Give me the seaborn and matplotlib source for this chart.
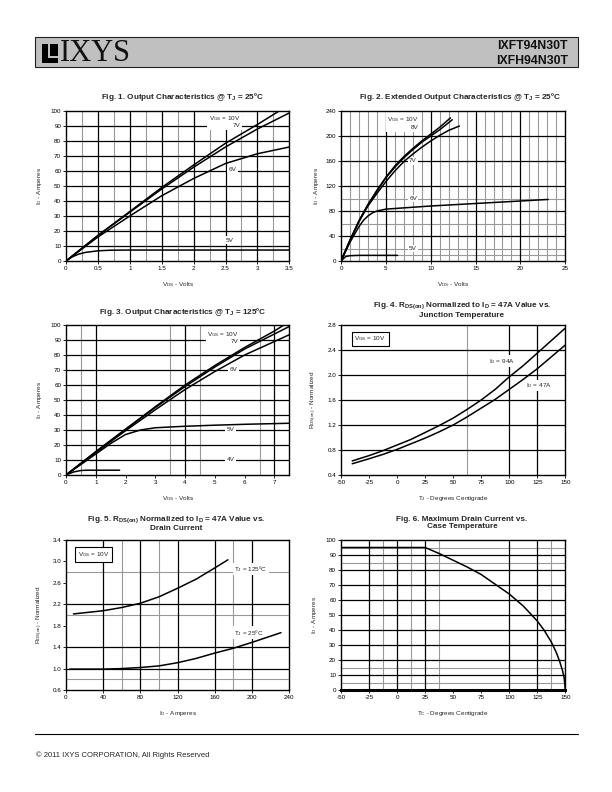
import matplotlib
matplotlib.use("Agg")
import matplotlib.pyplot as plt
import seaborn as sns
from matplotlib import font_manager
from matplotlib.patches import Rectangle
from matplotlib.lines import Line2D

# ---------------- values ----------------
# Fig. 1  output characteristics @ TJ = 25C  (VDS volts, ID amps)
f1_10v_x = [0, 0.25, 0.5, 1.0, 1.5, 2.0, 2.5, 3.0, 3.34]
f1_10v_y = [0, 8.5, 17, 33, 49, 64, 78.5, 91, 100]
f1_7v_x = [0, 0.25, 0.5, 1.0, 1.5, 2.0, 2.5, 3.0, 3.5]
f1_7v_y = [0, 8.5, 17, 32.5, 48, 62.5, 76, 88, 98.7]
f1_6v_x = [0, 0.25, 0.5, 1.0, 1.5, 2.0, 2.5, 3.0, 3.5]
f1_6v_y = [0, 8, 16, 30, 43.5, 55, 65, 71.5, 76]
f1_5v_x = [0, 0.1, 0.2, 0.3, 0.5, 0.7, 1.0, 3.5]
f1_5v_y = [0, 2.8, 4.6, 5.7, 6.8, 7.2, 7.3, 7.3]

# Fig. 2  extended output characteristics @ TJ = 25C
f2_10v_x = [0, 1, 2, 3, 4, 5, 6, 7, 8, 9, 10, 11, 12.2]
f2_10v_y = [0, 33, 64, 90, 113, 134, 152, 167, 180, 192, 203, 214, 229]
f2_8v_x = [0, 1, 2, 3, 4, 5, 6, 7, 8, 9, 10, 11, 12.4]
f2_8v_y = [0, 33, 64, 90, 112, 133, 150, 165, 178, 190, 200, 210, 226]
f2_7v_x = [0, 1, 2, 3, 4, 5, 6, 7, 8, 9, 10, 11, 12, 13.2]
f2_7v_y = [0, 33, 63, 88, 108, 127, 144, 159, 171, 182, 192, 201, 209, 216]
f2_6v_x = [0, 1, 2, 2.5, 3, 3.5, 4, 5, 6, 8, 10, 15, 20, 23.1]
f2_6v_y = [0, 30, 55, 65, 72, 77, 80, 83, 84, 86, 88, 92, 96, 98.5]
f2_5v_x = [0, 0.5, 1, 2, 6.3]
f2_5v_y = [0, 7, 8.5, 9, 9]

# Fig. 3  output characteristics @ TJ = 125C
f3_10v_x = [0, 1, 2, 3, 4, 5, 6, 7, 7.32]
f3_10v_y = [0, 15.5, 30.5, 45.5, 60, 73, 85, 96, 100]
f3_7v_x = [0, 1, 2, 3, 4, 5, 6, 7, 7.5]
f3_7v_y = [0, 15.5, 30.5, 45, 59, 72, 84, 94, 99]
f3_6v_x = [0, 1, 2, 3, 4, 5, 6, 7, 7.5]
f3_6v_y = [0, 15, 29.5, 43.5, 57, 69, 80, 89, 93.5]
f3_5v_x = [0, 1, 1.5, 2, 2.5, 3, 4, 5, 6, 7.5]
f3_5v_y = [0, 14, 21, 27, 30, 31.5, 32.5, 33.2, 33.8, 34.5]
f3_4v_x = [0, 0.25, 0.5, 0.7, 1.8]
f3_4v_y = [0, 2, 3, 3.2, 3.2]

# Fig. 4  RDS(on) normalised vs junction temperature
f4_tj = [-40, -25, -12.5, 0, 12.5, 25, 37.5, 50, 62.5, 75, 87.5, 100, 112.5, 125, 137.5, 150]
f4_94a = [0.625, 0.71, 0.79, 0.88, 0.97, 1.08, 1.19, 1.31, 1.45, 1.60, 1.77, 1.97, 2.15, 2.35, 2.55, 2.75]
f4_47a = [0.58, 0.66, 0.73, 0.81, 0.90, 0.99, 1.09, 1.20, 1.33, 1.47, 1.61, 1.77, 1.93, 2.10, 2.29, 2.48]

# Fig. 5  RDS(on) normalised vs drain current
f5_125_id = [8, 40, 60, 80, 100, 120, 140, 160, 174]
f5_125_r = [2.02, 2.08, 2.14, 2.22, 2.34, 2.50, 2.67, 2.88, 3.03]
f5_25_id = [4, 40, 60, 80, 100, 120, 140, 160, 180, 200, 231]
f5_25_r = [0.99, 0.99, 1.00, 1.02, 1.05, 1.11, 1.19, 1.29, 1.38, 1.49, 1.67]

# Fig. 6  maximum drain current vs case temperature
f6_tc = [-50, 25, 37.5, 50, 62.5, 75, 87.5, 100, 112.5, 125, 131, 137.5, 142, 145, 147.5, 149, 150]
f6_id = [95, 95, 91, 86.5, 82, 77, 70.5, 64, 56, 46, 40, 32, 25, 19, 13, 8, 0]

# ---------------- fonts ----------------
sns.set_style("white")
installed = {f.name for f in font_manager.fontManager.ttflist}
SANS = "Liberation Sans" if "Liberation Sans" in installed else "DejaVu Sans"
if "Liberation Sans Narrow" in installed:
    TITLE_FONT, TITLE_SIZE = "Liberation Sans Narrow", 6.9
else:
    TITLE_FONT, TITLE_SIZE = SANS, 5.9
SERIF = "Liberation Serif" if "Liberation Serif" in installed else "DejaVu Serif"
plt.rcParams["font.family"] = [SANS, "DejaVu Sans"]
plt.rcParams["mathtext.default"] = "regular"

TICK = 4.5
LAB = 4.6
GREY = "#999999"

fig = plt.figure(figsize=(6.12, 7.92), dpi=100)


def fx(px):
    return px / 612


def fy(py):
    return 1 - py / 792


def panel(rect, xlim, ylim, xticks, xticklabels, yticks, yticklabels,
          vmaj, vmin, hmaj, hmin, xlabel, ylabel, ylab_off=0.1):
    ax = fig.add_axes(rect)
    for v in vmin:
        ax.axvline(v, color=GREY, lw=0.8, zorder=1)
    for v in vmaj:
        ax.axvline(v, color="black", lw=0.9, zorder=1.1)
    for h in hmin:
        ax.axhline(h, color=GREY, lw=0.8, zorder=1)
    for h in hmaj:
        ax.axhline(h, color="black", lw=0.9, zorder=1.1)
    ax.set_xlim(xlim)
    ax.set_ylim(ylim)
    ax.set_xticks(xticks)
    ax.set_xticklabels(xticklabels)
    ax.set_yticks(yticks)
    ax.set_yticklabels(yticklabels)
    ax.tick_params(bottom=True, left=True, length=2, width=0.6, direction="out",
                   labelsize=TICK, pad=1.5, colors="black")
    for s in ax.spines.values():
        s.set_color("black")
        s.set_linewidth(1.0)
        s.set_zorder(5)
    ax.set_xlabel(xlabel, fontsize=LAB)
    ax.set_ylabel(ylabel, fontsize=LAB)
    ax.xaxis.set_label_coords(0.5, -0.125)
    ax.yaxis.set_label_coords(-ylab_off, 0.5)
    return ax


def curve(ax, xs, ys):
    sns.lineplot(x=xs, y=ys, ax=ax, color="black", lw=1.1, sort=False,
                 estimator=None, zorder=4)


def note(ax, x, y, s, ha="left", box=False):
    if box:
        bb = dict(fc="white", ec="black", lw=0.8, pad=2.0)
    else:
        bb = dict(fc="white", ec="none", pad=1.0)
    ax.text(x, y, s, fontsize=LAB, ha=ha, va="center", bbox=bb, zorder=3,
            multialignment="right")


def title(xc, yc, s):
    fig.text(fx(xc), fy(yc), s, ha="center", va="center", fontsize=TITLE_SIZE,
             fontweight="bold", family=[TITLE_FONT, SANS], linespacing=1.15)


LX, LW = fx(66), fx(223.3)
RX, RW = fx(341), fx(224.3)
H = 150 / 792
ROWS = [fy(261), fy(475), fy(690)]

V_ID = "I$_D$ - Amperes"
V_VDS = "V$_{DS}$ - Volts"
V_RDS = "R$_{DS(on)}$ - Normalized"

# ---------------- header / footer ----------------
fig.patches.append(Rectangle((fx(35), fy(66.5)), fx(543), 29 / 792,
                             transform=fig.transFigure, fc="#c0c0c0",
                             ec="#222222", lw=0.8))
fig.patches.append(Rectangle((fx(42), fy(63)), fx(16), 19 / 792,
                             transform=fig.transFigure, fc="black", ec="none"))
fig.patches.append(Rectangle((fx(48), fy(58)), fx(1.6), 14 / 792,
                             transform=fig.transFigure, fc="#c0c0c0", ec="none"))
fig.patches.append(Rectangle((fx(48), fy(58)), fx(10), 1.6 / 792,
                             transform=fig.transFigure, fc="#c0c0c0", ec="none"))
fig.text(fx(60), fy(53.5), "IXYS", family=SERIF, fontsize=22, va="center",
         ha="left", color="#111111")
fig.text(fx(568), fy(46), "IXFT94N30T", fontsize=8.8, fontweight="bold",
         ha="right", va="center", color="#111111")
fig.text(fx(568), fy(60.5), "IXFH94N30T", fontsize=8.8, fontweight="bold",
         ha="right", va="center", color="#111111")
fig.add_artist(Line2D([fx(35), fx(578)], [fy(733.5), fy(733.5)],
                      color="black", lw=0.8))
fig.text(fx(36), fy(755), "© 2011 IXYS CORPORATION, All Rights Reserved",
         fontsize=5.5, ha="left", va="center")

# ---------------- Fig. 1 ----------------
ax1 = panel([LX, ROWS[0], LW, H], (0, 3.5), (0, 100),
            [0, 0.5, 1, 1.5, 2, 2.5, 3, 3.5],
            ["0", "0.5", "1", "1.5", "2", "2.5", "3", "3.5"],
            list(range(0, 101, 10)), [str(v) for v in range(0, 101, 10)],
            [0.5, 1, 1.5, 2, 2.5, 3], [0.25, 0.75, 1.25, 1.75, 2.25, 2.75, 3.25],
            list(range(10, 100, 10)), [], V_VDS, V_ID)
curve(ax1, f1_10v_x, f1_10v_y)
curve(ax1, f1_7v_x, f1_7v_y)
curve(ax1, f1_6v_x, f1_6v_y)
curve(ax1, f1_5v_x, f1_5v_y)
note(ax1, 2.73, 93.3, "V$_{GS}$ = 10V\n7V", ha="right")
note(ax1, 2.55, 61, "6V")
note(ax1, 2.5, 14, "5V")
title(183, 97, "Fig. 1. Output Characteristics @ T$_J$ = 25ºC")

# ---------------- Fig. 2 ----------------
ax2 = panel([RX, ROWS[0], RW, H], (0, 25), (0, 240),
            [0, 5, 10, 15, 20, 25], ["0", "5", "10", "15", "20", "25"],
            list(range(0, 241, 40)), [str(v) for v in range(0, 241, 40)],
            [5, 10, 15, 20], [v for v in range(1, 25) if v % 5],
            [40, 80, 120, 160, 200], [9, 20, 60, 100], V_VDS, V_ID, 0.09)
curve(ax2, f2_10v_x, f2_10v_y)
curve(ax2, f2_8v_x, f2_8v_y)
curve(ax2, f2_7v_x, f2_7v_y)
curve(ax2, f2_6v_x, f2_6v_y)
curve(ax2, f2_5v_x, f2_5v_y)
note(ax2, 8.65, 221, "V$_{GS}$ = 10V\n8V", ha="right")
note(ax2, 7.6, 160, "7V")
note(ax2, 7.6, 100, "6V")
note(ax2, 7.6, 20, "5V")
title(460, 97, "Fig. 2. Extended Output Characteristics @ T$_J$ = 25ºC")

# ---------------- Fig. 3 ----------------
ax3 = panel([LX, ROWS[1], LW, H], (0, 7.5), (0, 100),
            list(range(0, 8)), [str(v) for v in range(0, 8)],
            list(range(0, 101, 10)), [str(v) for v in range(0, 101, 10)],
            [1, 4, 7], [0.5, 3.5, 4.5, 6.5],
            list(range(10, 100, 10)), [], V_VDS, V_ID)
curve(ax3, f3_10v_x, f3_10v_y)
curve(ax3, f3_7v_x, f3_7v_y)
curve(ax3, f3_6v_x, f3_6v_y)
curve(ax3, f3_5v_x, f3_5v_y)
curve(ax3, f3_4v_x, f3_4v_y)
note(ax3, 5.79, 92, "V$_{GS}$ = 10V\n7V", ha="right")
note(ax3, 5.5, 70, "6V")
note(ax3, 5.4, 30, "5V")
note(ax3, 5.4, 10, "4V")
title(183, 312, "Fig. 3. Output Characteristics @ T$_J$ = 125ºC")

# ---------------- Fig. 4 ----------------
ax4 = panel([RX, ROWS[1], RW, H], (-50, 150), (0.4, 2.8),
            list(range(-50, 151, 25)), [str(v) for v in range(-50, 151, 25)],
            [0.4, 0.8, 1.2, 1.6, 2.0, 2.4, 2.8],
            ["0.4", "0.8", "1.2", "1.6", "2.0", "2.4", "2.8"],
            [100, 125], [62.5], [0.8, 1.2, 1.6, 2.0, 2.4], [],
            "T$_J$ - Degrees Centigrade", V_RDS)
curve(ax4, f4_tj, f4_94a)
curve(ax4, f4_tj, f4_47a)
note(ax4, -38, 2.58, "V$_{GS}$ = 10V", box=True)
note(ax4, 82, 2.22, "I$_D$ = 94A")
note(ax4, 115, 1.83, "I$_D$ = 47A")
title(462, 309.5, "Fig. 4. R$_{DS(on)}$ Normalized to I$_D$ = 47A Value vs.\nJunction Temperature")

# ---------------- Fig. 5 ----------------
ax5 = panel([LX, ROWS[2], LW, H], (0, 240), (0.6, 3.4),
            list(range(0, 241, 40)), [str(v) for v in range(0, 241, 40)],
            [0.6, 1.0, 1.4, 1.8, 2.2, 2.6, 3.0, 3.4],
            ["0.6", "1.0", "1.4", "1.8", "2.2", "2.6", "3.0", "3.4"],
            [40, 80, 120, 160, 200], [60, 100, 180],
            [1.0, 1.4, 2.2], [0.8, 2.0, 2.8], "I$_D$ - Amperes", V_RDS, 0.095)
curve(ax5, f5_125_id, f5_125_r)
curve(ax5, f5_25_id, f5_25_r)
note(ax5, 13, 3.13, "V$_{GS}$ = 10V", box=True)
note(ax5, 181, 2.86, "T$_J$ = 125ºC")
note(ax5, 181, 1.67, "T$_J$ = 25ºC")
title(176, 523, "Fig. 5. R$_{DS(on)}$ Normalized to I$_D$ = 47A Value vs.\nDrain Current")

# ---------------- Fig. 6 ----------------
ax6 = panel([RX, ROWS[2], RW, H], (-50, 150), (0, 100),
            list(range(-50, 151, 25)), [str(v) for v in range(-50, 151, 25)],
            list(range(0, 101, 10)), [str(v) for v in range(0, 101, 10)],
            [-25, 0, 25, 100, 125], [-12.5, 12.5, 37.5, 137.5],
            list(range(10, 100, 10)), [5, 15, 85, 95],
            "T$_C$ - Degrees Centigrade", V_ID)
curve(ax6, f6_tc, f6_id)
ax6.spines["bottom"].set_linewidth(2.2)
title(462, 523, "Fig. 6. Maximum Drain Current vs.\nCase Temperature")

fig.savefig("out.png", dpi=100)
